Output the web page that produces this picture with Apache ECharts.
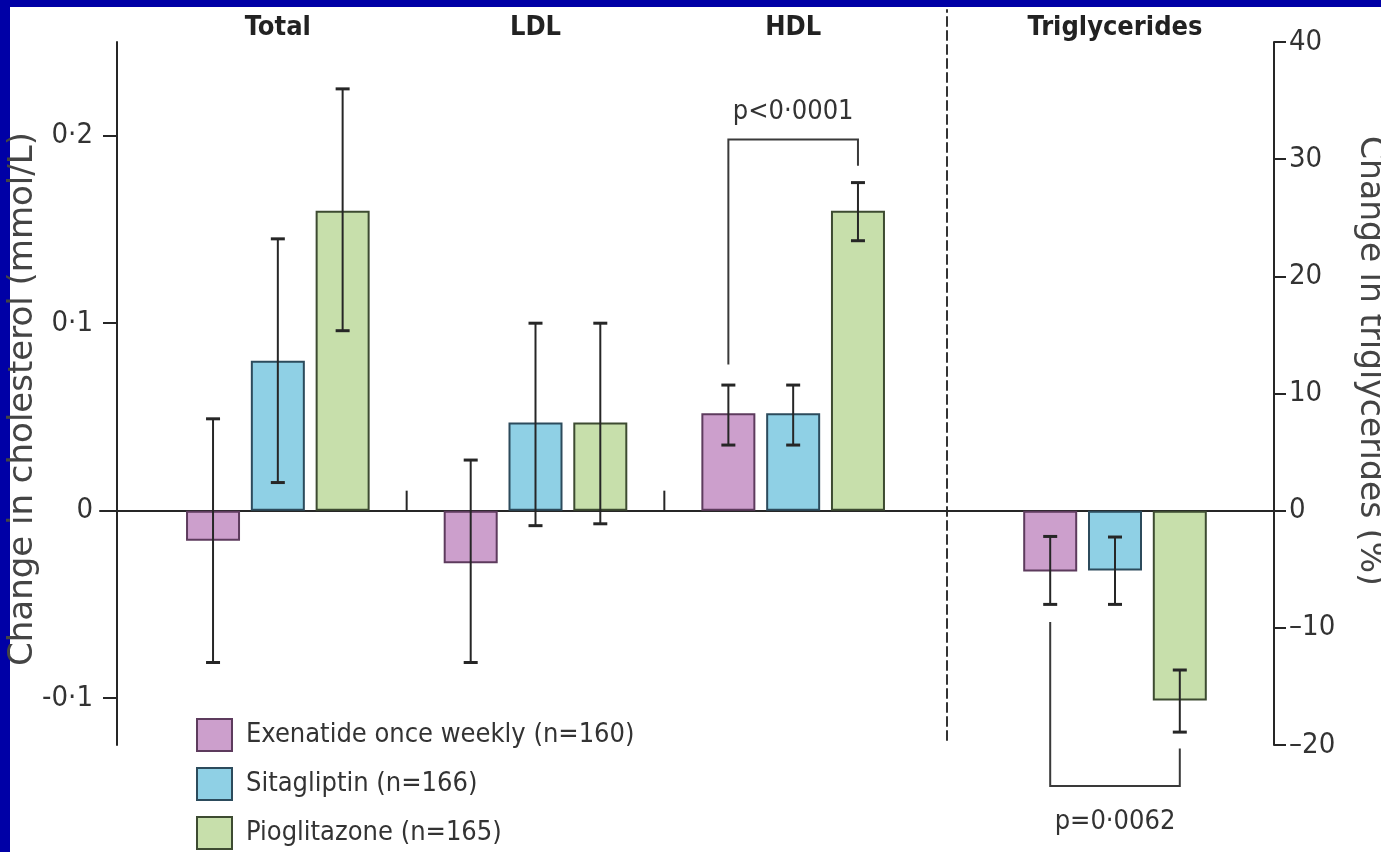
<!DOCTYPE html>
<html><head><meta charset="utf-8">
<script src="https://cdn.jsdelivr.net/npm/echarts@6/dist/echarts.min.js"></script>
<style>
html,body{margin:0;padding:0;width:1381px;height:852px;overflow:hidden;background:#0000a6;}
#paper{position:absolute;left:10px;top:7px;right:0;bottom:0;background:#ffffff;}
#chart{position:absolute;left:0;top:0;width:1381px;height:852px;}
</style></head><body>
<div id="paper"></div><div id="chart"></div>
<script>
// ---- data ----
const cholGroups = ['Total', 'LDL', 'HDL'];
const tgGroups = ['Triglycerides'];
const seriesNames = ['Exenatide once weekly (n=160)', 'Sitagliptin (n=166)', 'Pioglitazone (n=165)'];

// change in cholesterol (mmol/L)
const exenatideChol = [-0.016, -0.028, 0.052];
const exenatideCholLow = [-0.081, -0.081, 0.035];
const exenatideCholHigh = [0.049, 0.027, 0.067];
const sitagliptinChol = [0.080, 0.047, 0.052];
const sitagliptinCholLow = [0.015, -0.008, 0.035];
const sitagliptinCholHigh = [0.145, 0.100, 0.067];
const pioglitazoneChol = [0.160, 0.047, 0.160];
const pioglitazoneCholLow = [0.096, -0.007, 0.144];
const pioglitazoneCholHigh = [0.225, 0.100, 0.175];

// change in triglycerides (%)
const exenatideTg = [-5.2];
const exenatideTgLow = [-8.0];
const exenatideTgHigh = [-2.2];
const sitagliptinTg = [-5.1];
const sitagliptinTgLow = [-8.0];
const sitagliptinTgHigh = [-2.25];
const pioglitazoneTg = [-16.2];
const pioglitazoneTgLow = [-18.9];
const pioglitazoneTgHigh = [-13.6];

// axis ticks
const cholTicks = [-0.1, 0, 0.1, 0.2];
const cholRange = [-0.125, 0.25];
const tgRange = [-20, 40];
const tgStep = 10;

// group separators (left edge of these categories)
const separatorBefore = [1, 2];

// comparison brackets: [category, start level, top level, end level]
const hdlBracket = [2, 0.078, 0.198, 0.184];
const tgBracket = [0, -9.5, -23.5, -20.3];
const bracketLabels = ['p<0·0001', 'p=0·0062'];

// ---- style ----
const NARROW = "'Liberation Sans Narrow', 'DejaVu Sans Condensed', 'Roboto Condensed', Roboto, sans-serif";
const WIDE = "'DejaVu Sans', Verdana, sans-serif";
const fills = ['#cc9fcc', '#8fd0e5', '#c7dfab'];
const borders = ['#5d3b5d', '#2c4b5c', '#3d4b31'];
const BAR_W = 54, BAR_GAP = 0.2, PITCH = BAR_W * (1 + BAR_GAP);
const INK = '#262626';

function errRender(k) {
  return function (params, api) {
    const cat = api.value(0);
    const x = api.coord([cat, 0])[0] + (k - 1) * PITCH;
    const y1 = api.coord([cat, api.value(1)])[1];
    const y2 = api.coord([cat, api.value(2)])[1];
    const st = { stroke: INK, lineWidth: 2 };
    const cap = { stroke: INK, lineWidth: 3 };
    return { type: 'group', children: [
      { type: 'line', shape: { x1: x, y1: y1, x2: x, y2: y2 }, style: st },
      { type: 'line', shape: { x1: x - 7, y1: y1, x2: x + 7, y2: y1 }, style: cap },
      { type: 'line', shape: { x1: x - 7, y1: y2, x2: x + 7, y2: y2 }, style: cap }
    ]};
  };
}
function errData(low, high) { return low.map((v, i) => [i, v, high[i]]); }

function bracketRender(label, above) {
  return function (params, api) {
    const cat = api.value(0);
    const cx = api.coord([cat, 0])[0];
    const xa = cx - PITCH, xb = cx + PITCH;
    const ya = api.coord([cat, api.value(1)])[1];
    const yt = api.coord([cat, api.value(2)])[1];
    const yb = api.coord([cat, api.value(3)])[1];
    return { type: 'group', children: [
      { type: 'polyline', shape: { points: [[xa, ya], [xa, yt], [xb, yt], [xb, yb]] },
        style: { stroke: '#3a3a3a', lineWidth: 2, fill: null } },
      { type: 'text', style: { text: label, x: (xa + xb) / 2, y: above ? yt - 27 : yt + 36,
        align: 'center', verticalAlign: 'middle', fontFamily: NARROW, fontSize: 27, fill: '#333' } }
    ]};
  };
}

function sepRender(params, api) {
  const idx = api.value(0);
  const band = api.size([1, 0])[0];
  const p = api.coord([idx, 0]);
  const x = p[0] - band / 2;
  return { type: 'line', shape: { x1: x, y1: p[1], x2: x, y2: p[1] - 20 },
    style: { stroke: INK, lineWidth: 2 } };
}

const cholFmt = v => (Math.round(v * 10) / 10).toString().replace('.', '·');
const tgFmt = v => String(v).replace('-', '–');

const barBase = (i, xi, data) => ({
  name: seriesNames[i], type: 'bar', xAxisIndex: xi, yAxisIndex: xi, data: data,
  barWidth: BAR_W, barGap: (BAR_GAP * 100) + '%',
  itemStyle: { color: fills[i], borderColor: borders[i], borderWidth: 2 }, z: 2
});

const titleLabel = { fontFamily: NARROW, fontWeight: 'bold', fontSize: 27, color: '#222', margin: 1 };

const option = {
  backgroundColor: 'transparent',
  animation: false,
  grid: [
    { left: 149, right: 459, top: 42, bottom: 107, outerBoundsMode: 'none' },   // cholesterol
    { left: 956, right: 107, top: 42, bottom: 107, outerBoundsMode: 'none' },   // triglycerides
    { left: 100, right: 107, top: 42, bottom: 107, outerBoundsMode: 'none' },   // zero line
    { left: 947, width: 1, top: 10, bottom: 112, outerBoundsMode: 'none' }      // divider
  ],
  legend: {
    data: seriesNames, orient: 'vertical', left: 196, top: 718, padding: 0,
    itemWidth: 35, itemHeight: 32, itemGap: 15, icon: 'rect', selectedMode: false,
    textStyle: { fontFamily: NARROW, fontSize: 27, color: '#333', lineHeight: 32, padding: [0, 0, 0, 9] }
  },
  xAxis: [
    { type: 'category', gridIndex: 0, data: cholGroups, position: 'top',
      axisLine: { show: false, onZero: false }, axisTick: { show: false }, axisLabel: titleLabel },
    { type: 'category', gridIndex: 1, data: tgGroups, position: 'top',
      axisLine: { show: false, onZero: false }, axisTick: { show: false }, axisLabel: titleLabel },
    { type: 'value', gridIndex: 2, min: 0, max: 1,
      axisLine: { show: true, onZero: true, lineStyle: { color: INK, width: 2 } },
      axisTick: { show: false }, axisLabel: { show: false }, splitLine: { show: false } },
    { type: 'value', gridIndex: 3, min: 0, max: 1, show: false }
  ],
  yAxis: [
    { type: 'value', gridIndex: 0, min: cholRange[0], max: cholRange[1], position: 'left', offset: 32,
      axisLine: { show: true, onZero: false, lineStyle: { color: INK, width: 2 } },
      axisTick: { show: true, customValues: cholTicks, length: 14, lineStyle: { color: INK, width: 2 } },
      axisLabel: { customValues: cholTicks, formatter: cholFmt, fontFamily: NARROW, fontSize: 29, color: '#333', margin: 24 },
      splitLine: { show: false },
      name: 'Change in cholesterol (mmol/L)', nameLocation: 'middle', nameGap: 77, nameRotate: 90,
      nameMoveOverlap: false,
      nameTextStyle: { fontFamily: WIDE, fontSize: 34, color: '#444', padding: [0, 11, 0, 0] } },
    { type: 'value', gridIndex: 1, min: tgRange[0], max: tgRange[1], interval: tgStep, position: 'right',
      axisLine: { show: true, onZero: false, lineStyle: { color: INK, width: 2 } },
      axisTick: { show: true, length: 12, lineStyle: { color: INK, width: 2 } },
      axisLabel: { formatter: tgFmt, fontFamily: NARROW, fontSize: 29, color: '#333', margin: 15 },
      splitLine: { show: false },
      name: 'Change in triglycerides (%)', nameLocation: 'middle', nameGap: 79, nameRotate: -90,
      nameMoveOverlap: false,
      nameTextStyle: { fontFamily: WIDE, fontSize: 33, color: '#444', padding: [0, 65, 0, 0] } },
    { type: 'value', gridIndex: 2, min: cholRange[0], max: cholRange[1], show: false },
    { type: 'value', gridIndex: 3, min: 0, max: 1, position: 'left',
      axisLine: { show: true, onZero: false, lineStyle: { color: '#333', width: 2, type: [9, 5] } },
      axisTick: { show: false }, axisLabel: { show: false }, splitLine: { show: false } }
  ],
  series: [
    barBase(0, 0, exenatideChol),
    barBase(1, 0, sitagliptinChol),
    barBase(2, 0, pioglitazoneChol),
    barBase(0, 1, exenatideTg),
    barBase(1, 1, sitagliptinTg),
    barBase(2, 1, pioglitazoneTg),
    { type: 'custom', xAxisIndex: 0, yAxisIndex: 0, z: 4, renderItem: errRender(0), data: errData(exenatideCholLow, exenatideCholHigh) },
    { type: 'custom', xAxisIndex: 0, yAxisIndex: 0, z: 4, renderItem: errRender(1), data: errData(sitagliptinCholLow, sitagliptinCholHigh) },
    { type: 'custom', xAxisIndex: 0, yAxisIndex: 0, z: 4, renderItem: errRender(2), data: errData(pioglitazoneCholLow, pioglitazoneCholHigh) },
    { type: 'custom', xAxisIndex: 1, yAxisIndex: 1, z: 4, renderItem: errRender(0), data: errData(exenatideTgLow, exenatideTgHigh) },
    { type: 'custom', xAxisIndex: 1, yAxisIndex: 1, z: 4, renderItem: errRender(1), data: errData(sitagliptinTgLow, sitagliptinTgHigh) },
    { type: 'custom', xAxisIndex: 1, yAxisIndex: 1, z: 4, renderItem: errRender(2), data: errData(pioglitazoneTgLow, pioglitazoneTgHigh) },
    { type: 'custom', xAxisIndex: 0, yAxisIndex: 0, z: 4, renderItem: sepRender, data: separatorBefore.map(i => [i]) },
    { type: 'custom', xAxisIndex: 0, yAxisIndex: 0, z: 4, clip: false, renderItem: bracketRender(bracketLabels[0], true), data: [hdlBracket] },
    { type: 'custom', xAxisIndex: 1, yAxisIndex: 1, z: 4, clip: false, renderItem: bracketRender(bracketLabels[1], false), data: [tgBracket] }
  ]
};
const chart = echarts.init(document.getElementById('chart'), null, { renderer: 'canvas' });
chart.setOption(option);
</script>
</body></html>
